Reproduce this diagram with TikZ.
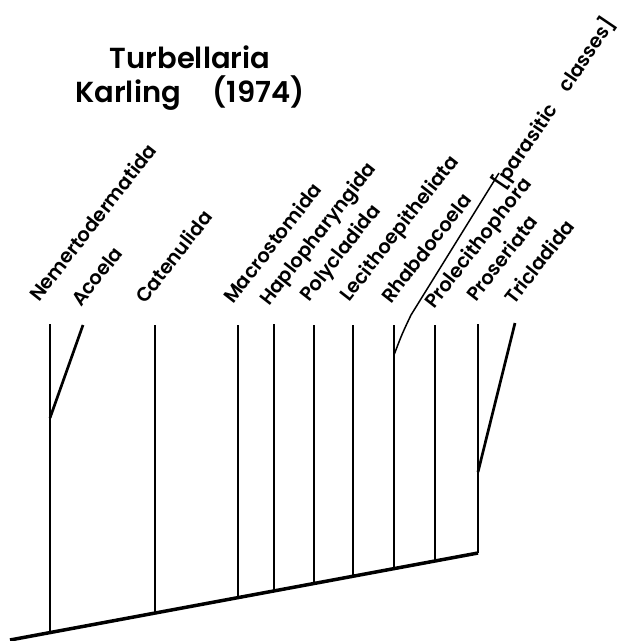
\documentclass[tikz,border=0pt]{standalone}
\usepackage{fontspec}
\setmainfont{Poppins SemiBold}
\usepackage{tikz}

\begin{document}
\begin{tikzpicture}[x=1pt,y=-1pt,
    branch/.style={line width=2.7pt},
    taxon/.style={anchor=base west,rotate=#1,inner sep=0pt,
        font=\fontsize{19.5}{19.5}\selectfont},
    taxon/.default=52]
    \useasboundingbox (0,0) rectangle (625,641);
    % heading
    \node[anchor=base,font=\fontsize{29}{29}\selectfont] (group) at (190,68) {Turbellaria};
    \node[anchor=base,font=\fontsize{29}{29}\selectfont] (source) at (190,102) {Karling\hspace{1.1em}(1974)};
    % main stem
    \coordinate (root) at (10,640);
    \coordinate (proseb) at (478,553);
    \draw[line width=3.5pt] (root) -- (proseb);
    % tips and their labels
    \node[taxon] (nemer) at (39,303) {Nemertodermatida};
    \node[taxon] (acoel) at (81,308) {Acoela};
    \node[taxon] (caten) at (145,305) {Catenulida};
    \node[taxon] (macro) at (233,305) {Macrostomida};
    \node[taxon] (haplo) at (269,307) {Haplopharyngida};
    \node[taxon] (polyc) at (309,303) {Polycladida};
    \node[taxon] (lecit) at (349,303) {Lecithoepitheliata};
    \node[taxon] (rhabd) at (391,305) {Rhabdocoela};
    \node[taxon] (prolc) at (434,310) {Prolecithophora};
    \node[taxon] (prose) at (476,303) {Proseriata};
    \node[taxon] (tricl) at (514,306) {Tricladida};
    \node[taxon=56] (paras) at (503,191) {[parasitic\hspace{1em}classes]};
    % vertical branches
    \draw[branch] (50,324) -- (50,633);
    \draw[branch] (83,325) -- (50,418);
    \draw[branch] (155,325) -- (155,613);
    \draw[branch] (238,325) -- (238,598);
    \draw[branch] (274,324) -- (274,591);
    \draw[branch] (314,325) -- (314,584);
    \draw[branch] (353,325) -- (353,576);
    \draw[branch] (394,325) -- (394,569);
    \draw[branch] (435,325) -- (435,561);
    \draw[branch] (478,324) -- (proseb);
    \draw[branch] (515,323) -- (478,472);
    % parasitic classes off the rhabdocoels
    \draw[line width=1.5pt] (394,355) .. controls (402,334) .. (411,315) -- (499,173);
\end{tikzpicture}
\end{document}
